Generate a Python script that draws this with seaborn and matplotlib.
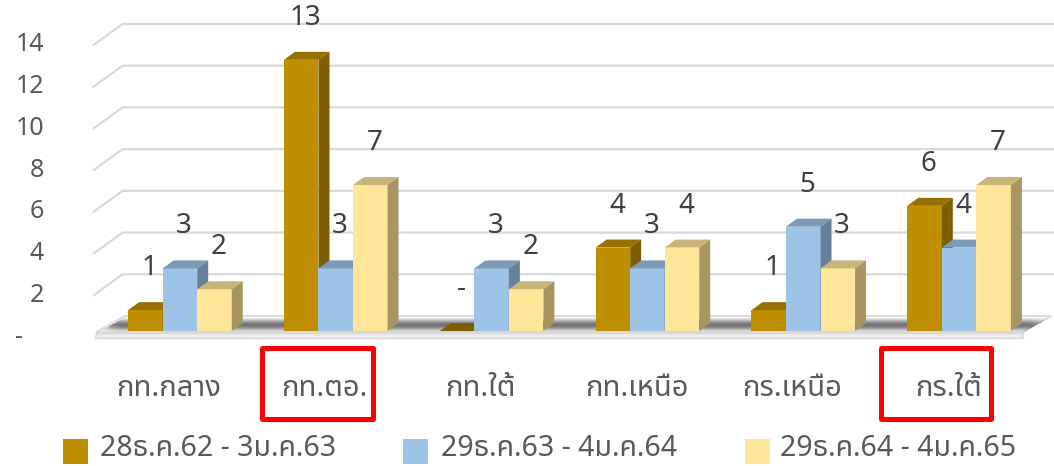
import numpy as np
import pandas as pd
import matplotlib
matplotlib.use("Agg")
import matplotlib.pyplot as plt
from matplotlib.patches import Polygon, Rectangle
import seaborn as sns

# ---- data -------------------------------------------------------------
regions = ["กท.กลาง", "กท.ตอ.", "กท.ใต้", "กท.เหนือ", "กร.เหนือ", "กร.ใต้"]
periods = ["28ธ.ค.62 - 3ม.ค.63", "29ธ.ค.63 - 4ม.ค.64", "29ธ.ค.64 - 4ม.ค.65"]
counts_62 = [1, 13, 0, 4, 1, 6]
counts_63 = [3, 3, 3, 3, 5, 4]
counts_64 = [2, 7, 2, 4, 3, 7]
y_ticks = [0, 2, 4, 6, 8, 10, 12, 14]
highlighted = ["กท.ตอ.", "กร.ใต้"]

front_colors = ["#BF8F00", "#9DC3E6", "#FFE699"]
top_colors = ["#977100", "#7C9AB6", "#C9B57A"]
side_colors = ["#7D5E00", "#66809A", "#A89562"]

df = pd.DataFrame({
    "region": regions * 3,
    "period": np.repeat(periods, len(regions)),
    "count": counts_62 + counts_63 + counts_64,
})

sns.set_theme(style="white")
FONT = ["Noto Sans Thai", "DejaVu Sans"]
plt.rcParams["font.family"] = FONT

W, H = 1054, 466
fig = plt.figure(figsize=(W / 100, H / 100), dpi=100)

# bar plane: value 0 sits at pixel row 331, 20.86 px per unit
Y0, PPU = 331.0, 20.86
XL, XR = 102.0, 1037.0
YMAX = 14.5
ax = fig.add_axes([XL / W, (H - Y0) / H, (XR - XL) / W, YMAX * PPU / H])

sns.barplot(data=df, x="region", y="count", hue="period", order=regions,
            hue_order=periods, palette=front_colors, saturation=1,
            width=0.665, dodge=True, legend=False, ax=ax, errorbar=None,
            edgecolor="none", linewidth=0)
bars = sorted([p for c in ax.containers for p in c], key=lambda p: p.get_x())

XLIM, YLIM = (-0.5, len(regions) - 0.5), (0, YMAX)
ax.set_xlim(*XLIM)
ax.set_ylim(*YLIM)
for s in ax.spines.values():
    s.set_visible(False)
ax.set_xticks([])
ax.set_yticks([])
ax.set_xlabel("")
ax.set_ylabel("")
ax.patch.set_alpha(0)


def to_data(x, y):
    """figure pixel (top-left origin) -> data coordinates"""
    return ax.transData.inverted().transform((x, H - y))


def to_px(x, y):
    dx, dy = ax.transData.transform((x, y))
    return dx, H - dy


def poly(pts, **kw):
    p = Polygon([to_data(*q) for q in pts], closed=True, clip_on=False, **kw)
    ax.add_patch(p)
    return p


# depth of the scene (front plane -> back wall) relative to the bar plane
FRONT = (-8.4, 6.0)
BACK = (20.6, -15.0)
BAR_DEPTH = (11.0, -8.0)
GRID = "#D9D9D9"

# gridlines on the back wall with a slanted return on the left side
for v in y_ticks[1:]:
    yv = to_px(0, v)[1]
    pts = [(XL + FRONT[0], yv + FRONT[1]), (XL + BACK[0], yv + BACK[1]),
           (1062, yv + BACK[1])]
    xs, ys = zip(*[to_data(*q) for q in pts])
    ax.plot(xs, ys, color=GRID, lw=1.6, zorder=1, clip_on=False,
            solid_joinstyle="miter")

# floor slab
fl, fr = XL + FRONT[0] + 2, XR + FRONT[0] - 6
yf, yb = 332.5, Y0 + BACK[1]
slope = 29.0 / (yf - yb)
poly([(fl, yf), (fr, yf), (fr + 29, yb), (fl + 29, yb)],
     facecolor="#F9F9F9", edgecolor=GRID, lw=1.3, zorder=1.5)
poly([(fl, yf), (fr, yf), (fr, yf + 5), (fl - 1, yf + 5)],
     facecolor="#EDEDED", edgecolor=GRID, lw=1.0, zorder=1.5)

# soft shadow of each bar group on the floor
shadow = np.zeros((H, W))
for g in range(len(regions)):
    grp = bars[3 * g:3 * g + 3]
    xa = to_px(grp[0].get_x(), 0)[0] - 22
    xb = to_px(grp[-1].get_x() + grp[-1].get_width(), 0)[0] + BAR_DEPTH[0] + 22
    shadow[int(Y0 - 10):int(Y0 - 2), int(xa):int(xb)] = 1.0


def blur(a, sx, sy):
    def kern(s):
        r = int(3 * s)
        k = np.exp(-0.5 * (np.arange(-r, r + 1) / s) ** 2)
        return k / k.sum()
    kx, ky = kern(sx), kern(sy)
    a = np.apply_along_axis(lambda r: np.convolve(r, kx, mode="same"), 1, a)
    a = np.apply_along_axis(lambda c: np.convolve(c, ky, mode="same"), 0, a)
    return a


shadow = blur(shadow, 7, 2.5)
rows = np.arange(H)[:, None]
cols = np.arange(W)[None, :]
left_edge = fl + (yf - rows) * slope
right_edge = fr + (yf - rows) * slope
inside = (rows > yb + 1) & (rows < yf - 1) & (cols > left_edge + 1) & (cols < right_edge - 1)
shadow = np.where(inside, shadow, 0)
img = np.zeros((H, W, 4))
img[..., :3] = 0.2
img[..., 3] = np.clip(shadow * 0.75, 0, 1)
x0d, y0d = to_data(0, H)
x1d, y1d = to_data(W, 0)
im = ax.imshow(img, extent=(x0d, x1d, y0d, y1d), origin="upper",
               aspect="auto", zorder=2, interpolation="bilinear")
im.set_clip_on(False)
ax.set_xlim(*XLIM)
ax.set_ylim(*YLIM)

# 3-D faces: drawn left to right so nearer bars overlap
values = [counts_62, counts_63, counts_64]
for k, b in enumerate(bars):
    g, s = divmod(k, 3)
    z = 3 + k * 0.01
    b.set_zorder(z)
    xa, ybot = to_px(b.get_x(), 0)
    xb, ytop = to_px(b.get_x() + b.get_width(), b.get_height())
    dx, dy = BAR_DEPTH
    tc = side_colors[s] if b.get_height() == 0 else top_colors[s]
    poly([(xa, ytop), (xb, ytop), (xb + dx, ytop + dy), (xa + dx, ytop + dy)],
         facecolor=tc, edgecolor="none", zorder=z + 0.003)
    if b.get_height() > 0:
        poly([(xb, ybot), (xb, ytop), (xb + dx, ytop + dy), (xb + dx, ybot + dy)],
             facecolor=side_colors[s], edgecolor="none", zorder=z + 0.003)
    v = values[s][g]
    ax.annotate("-" if v == 0 else str(v),
                xy=(b.get_x() + b.get_width() / 2, b.get_height()),
                xytext=(4, 42), textcoords="offset pixels", ha="center",
                va="center", fontsize=20, color="#404040", zorder=10,
                annotation_clip=False)

# value axis labels at the front edge
for v in y_ticks:
    yv = to_px(0, v)[1] + FRONT[1]
    if v == 0:
        fig.text(19 / W, 1 - yv / H, "-", ha="center", va="center",
                 fontsize=18, color="#595959")
    else:
        fig.text(44 / W, 1 - yv / H, str(v), ha="right", va="center",
                 fontsize=18, color="#595959")

# category labels
for i, r in enumerate(regions):
    ax.annotate(r, xy=(i, 0), xytext=(-11, -58), textcoords="offset pixels",
                ha="center", va="center", fontsize=21, color="#595959",
                annotation_clip=False)

# red frames around highlighted categories
frames = {"กท.ตอ.": (259, 375), "กร.ใต้": (878, 993)}
for r in highlighted:
    a, bx = frames[r]
    fig.add_artist(Rectangle(((a + 2.5) / W, 1 - 418.5 / H),
                             (bx - a - 5) / W, (418.5 - 347.5) / H,
                             transform=fig.transFigure, fill=False,
                             edgecolor="#FF0000", lw=3.6, joinstyle="round"))

# legend
for sx, tx, c, lab in zip([63, 403, 745], [100, 441, 780], front_colors, periods):
    fig.add_artist(Rectangle((sx / W, 1 - 464 / H), 25 / W, 25 / H,
                             transform=fig.transFigure, facecolor=c,
                             edgecolor="none"))
    fig.text(tx / W, 1 - 449 / H, lab, ha="left", va="center", fontsize=20.5,
             color="#595959")

fig.savefig("out.png", dpi=100)
